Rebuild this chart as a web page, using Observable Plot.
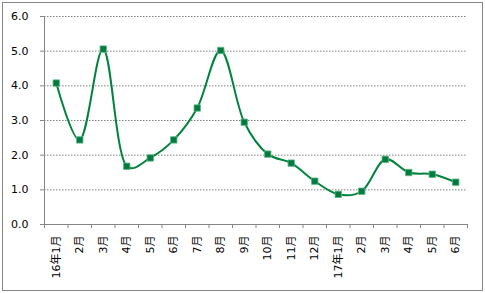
<!DOCTYPE html>
<html><head><meta charset="utf-8">
<script src="https://cdn.jsdelivr.net/npm/d3@7"></script>
<script src="https://cdn.jsdelivr.net/npm/@observablehq/plot@0.6"></script>
<style>
body{margin:0;background:#fff;}
#wrap{position:relative;width:485px;height:293px;}
#border{position:absolute;left:2px;top:2px;width:479px;height:287px;border:1px solid #868686;pointer-events:none;}
</style></head><body>
<div id="wrap"><div id="border"></div></div>
<script>
const months = ["16年1月","2月","3月","4月","5月","6月","7月","8月","9月","10月","11月","12月","17年1月","2月","3月","4月","5月","6月"];
const values = [4.08,2.44,5.06,1.68,1.92,2.44,3.36,5.02,2.95,2.03,1.77,1.25,0.87,0.96,1.88,1.50,1.45,1.22];
const yTicks = [0,1,2,3,4,5,6];

const data = values.map((v,i)=>({i, v}));
const font = "DejaVu Sans, 'Noto Sans CJK JP', sans-serif";
const chart = Plot.plot({
  width: 485, height: 293,
  marginLeft: 44, marginRight: 18, marginTop: 16, marginBottom: 69,
  style: {fontFamily: font, fontSize: "11px", color: "#000", background: "transparent"},
  x: {type: "linear", domain: [-0.5, months.length - 0.5]},
  y: {domain: [0, 6]},
  marks: [
    Plot.gridY(yTicks, {stroke: "#808080", strokeOpacity: 1, strokeDasharray: "1.5,1.5"}),
    Plot.axisY(yTicks, {tickSize: 4, tickPadding: 12, tickFormat: d => d.toFixed(1), stroke: "#868686", label: null, fill: "#000"}),
    Plot.axisX(d3.range(months.length + 1).map(k => k - 0.5), {tickSize: 4, tickFormat: () => "", stroke: "#868686", label: null}),
    Plot.axisX(d3.range(months.length), {tickSize: 0, tickPadding: 11, tickRotate: -90, tickFormat: k => months[k], label: null, fill: "#000"}),
    Plot.ruleX([-0.5], {stroke: "#868686"}),
    Plot.ruleY([0], {stroke: "#868686"}),
    Plot.line(data, {x: "i", y: "v", curve: d3.curveCatmullRom.alpha(0.35), stroke: "#00843D", strokeWidth: 2}),
    Plot.dot(data, {x: "i", y: "v", symbol: "square", r: 3.6, fill: "#007A3D", stroke: "#5DB585", strokeWidth: 0.8})
  ]
});
document.getElementById("wrap").prepend(chart);
</script>
</body></html>
